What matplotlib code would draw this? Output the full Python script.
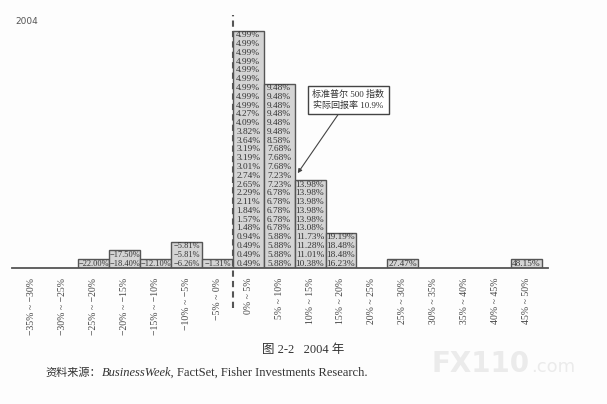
import matplotlib
matplotlib.use('Agg')
import matplotlib.pyplot as plt
from matplotlib.patches import Rectangle

# ---------------- data ----------------
bin_labels = ["−35% ~ −30%", "−30% ~ −25%", "−25% ~ −20%", "−20% ~ −15%",
              "−15% ~ −10%", "−10% ~ −5%", "−5% ~ 0%", "0% ~ 5%", "5% ~ 10%",
              "10% ~ 15%", "15% ~ 20%", "20% ~ 25%", "25% ~ 30%", "30% ~ 35%",
              "35% ~ 40%", "40% ~ 45%", "45% ~ 50%"]

# returns listed top-to-bottom inside each bin's column
bin_m35 = []
bin_m30 = []
bin_m25 = [-22.00]
bin_m20 = [-17.50, -18.40]
bin_m15 = [-12.10]
bin_m10 = [-5.81, -5.81, -6.26]
bin_m5 = [-1.31]
bin_0 = [4.99, 4.99, 4.99, 4.99, 4.99, 4.99, 4.99, 4.99, 4.99, 4.27, 4.09,
         3.82, 3.64, 3.19, 3.19, 3.01, 2.74, 2.65, 2.29, 2.11, 1.84, 1.57,
         1.48, 0.94, 0.49, 0.49, 0.49]
bin_5 = [9.48, 9.48, 9.48, 9.48, 9.48, 9.48, 8.58, 7.68, 7.68, 7.68, 7.23,
         7.23, 6.78, 6.78, 6.78, 6.78, 6.78, 5.88, 5.88, 5.88, 5.88]
bin_10 = [13.98, 13.98, 13.98, 13.98, 13.98, 13.08, 11.73, 11.28, 11.01, 10.38]
bin_15 = [19.19, 18.48, 18.48, 16.23]
bin_20 = []
bin_25 = [27.47]
bin_30 = []
bin_35 = []
bin_40 = []
bin_45 = [48.15]

bins_values = [bin_m35, bin_m30, bin_m25, bin_m20, bin_m15, bin_m10, bin_m5,
               bin_0, bin_5, bin_10, bin_15, bin_20, bin_25, bin_30, bin_35,
               bin_40, bin_45]

sp500_label = "标准普尔 500 指数\n实际回报率 10.9%"
year_label = "2004"
caption = "图 2-2   2004 年"

# ---------------- figure ----------------
W, H = 607, 404
fig = plt.figure(figsize=(W / 100, H / 100), dpi=100, facecolor='#fdfdfd')

SERIF = ['Liberation Serif', 'Noto Sans CJK SC']
CJK = ['Noto Sans CJK SC', 'Liberation Serif']

base_px, top_px, row_px = 268, 10, 8.78
ax = fig.add_axes([12 / W, (H - base_px) / H, 536 / W, (base_px - top_px) / H])
ax.set_xlim(-0.647, 16.70)
ax.set_ylim(0, (base_px - top_px) / row_px)
ax.set_facecolor('none')
for s in ax.spines.values():
    s.set_visible(False)
ax.axhline(0, color='#555555', lw=1.3, clip_on=False, zorder=3)
ax.set_yticks([])
ax.set_xticks(range(len(bin_labels)))
ax.set_xticklabels(bin_labels, rotation=90, fontsize=7, family=SERIF,
                   color='#444444')
ax.tick_params(axis='x', length=0, pad=7)


def fmt(v):
    return f"{v:.2f}%".replace('-', '−')


for i, vals in enumerate(bins_values):
    n = len(vals)
    if n == 0:
        continue
    ax.add_patch(Rectangle((i - 0.5, 0), 1, n, fc='#d4d4d4', ec='#555555',
                           lw=1.0, zorder=2))
    for k, v in enumerate(vals):
        ax.text(i, n - k - 0.5, fmt(v), ha='center', va='center',
                fontsize=6.0 if v < 0 else 6.7, family=SERIF,
                color='#333333', zorder=4)

# dashed zero line
ax.plot([6.5, 6.5], [-4.56, 28.8], ls=(0, (3, 2)), color='#555555', lw=1.5,
        clip_on=False, zorder=5)

# annotation
ax.annotate(sp500_label, xy=(8.6, 10.8), xytext=(10.23, 19.13),
            ha='center', va='center', fontsize=6.5, family=SERIF,
            color='#333333', multialignment='center',
            bbox=dict(boxstyle='square,pad=0.5', fc='white', ec='#444444',
                      lw=1.0),
            arrowprops=dict(arrowstyle='-|>', color='#444444', lw=0.8,
                            mutation_scale=6, shrinkA=0, shrinkB=0),
            zorder=6)

# year label
fig.text(15 / W, 1 - 22 / H, year_label, va='center', ha='left', fontsize=6.5,
         family='DejaVu Sans', color='#555555')

# caption
fig.text(303 / W, 1 - 353 / H, caption, ha='center', va='baseline', fontsize=9,
         family=SERIF, color='#333333')

# source line, chained pieces
renderer = fig.canvas.get_renderer()
parts = [("资料来源：", dict(family=CJK, fontsize=8)),
         ("BusinessWeek,", dict(family='Liberation Serif', style='italic',
                                fontsize=9)),
         ("FactSet, Fisher Investments Research.",
          dict(family='Liberation Serif', fontsize=9))]
x = 45
gaps = [1, 3, 0]
for (s, kw), g in zip(parts, gaps):
    t = fig.text(x / W, 1 - 376 / H, s, va='baseline', ha='left',
                 color='#333333', **kw)
    bb = t.get_window_extent(renderer)
    x = bb.x1 + g

# watermark
fig.text(432 / W, 1 - 372 / H, "FX110", ha='left', va='baseline', fontsize=20,
         weight='bold', family='DejaVu Sans', color='#ebebeb')
fig.text(531 / W, 1 - 372 / H, ".com", ha='left', va='baseline', fontsize=13,
         family='DejaVu Sans', color='#ebebeb')

fig.savefig('out.png', dpi=100, facecolor=fig.get_facecolor())
